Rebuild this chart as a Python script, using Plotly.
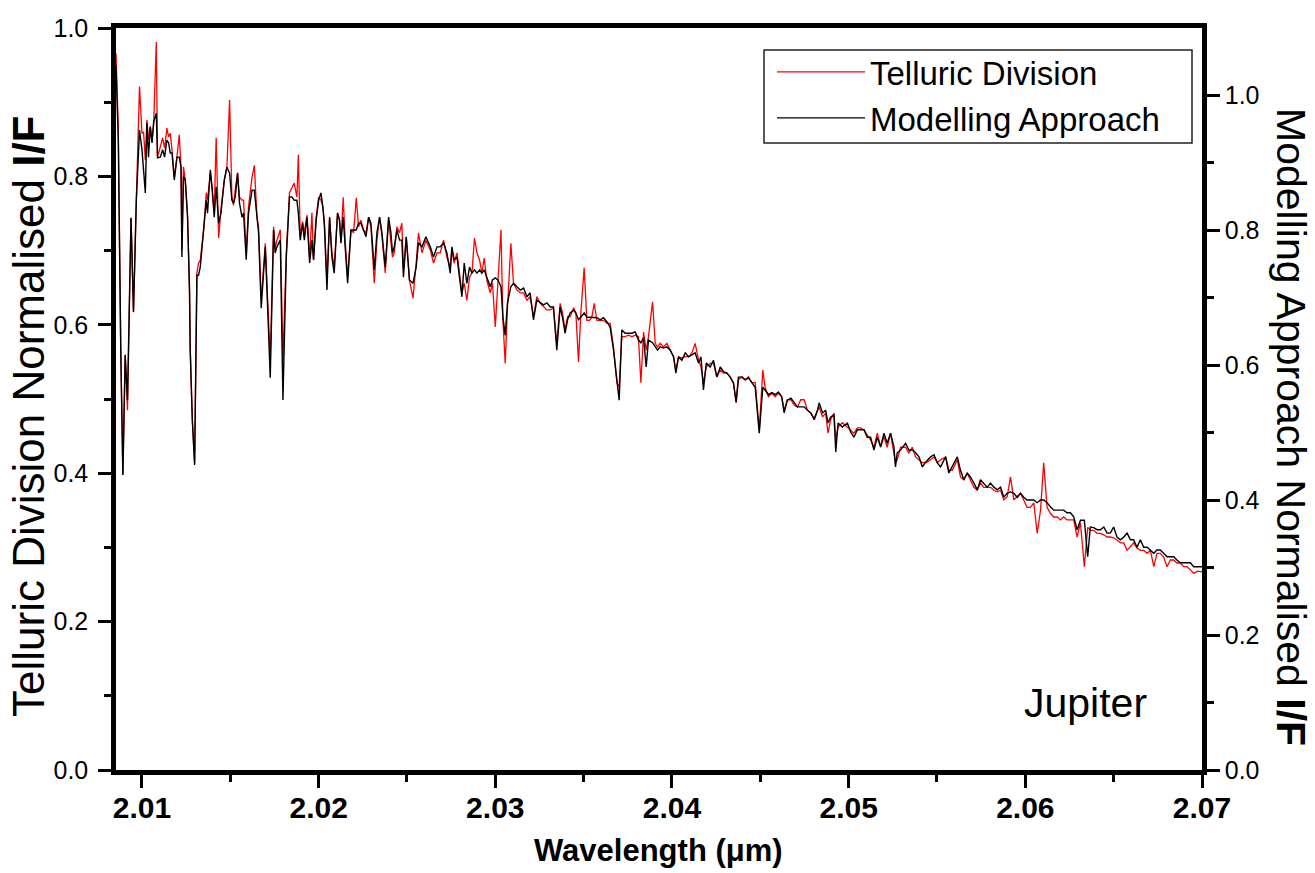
import plotly.graph_objects as go

# ---------------- data ----------------
wavelength = [
 2.00853, 2.00866, 2.00880, 2.00892, 2.00905, 2.00918, 2.00938, 2.00952, 2.00968, 2.00986,
 2.01000, 2.01009, 2.01019, 2.01028, 2.01037, 2.01047, 2.01057, 2.01066, 2.01081, 2.01088,
 2.01104, 2.01117, 2.01128, 2.01141, 2.01151, 2.01160, 2.01170, 2.01183, 2.01198, 2.01211,
 2.01221, 2.01226, 2.01235, 2.01245, 2.01258, 2.01269, 2.01273, 2.01285, 2.01298, 2.01311,
 2.01320, 2.01330, 2.01349, 2.01364, 2.01371, 2.01387, 2.01396, 2.01409, 2.01420, 2.01434,
 2.01447, 2.01466, 2.01481, 2.01496, 2.01509, 2.01518, 2.01528, 2.01541, 2.01552, 2.01566,
 2.01575, 2.01590, 2.01603, 2.01623, 2.01636, 2.01651, 2.01660, 2.01675, 2.01698, 2.01716,
 2.01726, 2.01745, 2.01754, 2.01764, 2.01783, 2.01798, 2.01817, 2.01835, 2.01849, 2.01862,
 2.01877, 2.01885, 2.01896, 2.01909, 2.01919, 2.01934, 2.01949, 2.01962, 2.01971, 2.01986,
 2.02000, 2.02013, 2.02024, 2.02033, 2.02047, 2.02062, 2.02075, 2.02088, 2.02107, 2.02118,
 2.02126, 2.02139, 2.02151, 2.02164, 2.02183, 2.02198, 2.02213, 2.02226, 2.02239, 2.02254,
 2.02268, 2.02283, 2.02296, 2.02315, 2.02330, 2.02345, 2.02358, 2.02377, 2.02396, 2.02409,
 2.02418, 2.02428, 2.02443, 2.02458, 2.02471, 2.02480, 2.02496, 2.02514, 2.02534, 2.02552,
 2.02565, 2.02585, 2.02607, 2.02632, 2.02650, 2.02670, 2.02688, 2.02707, 2.02726, 2.02745,
 2.02754, 2.02767, 2.02783, 2.02797, 2.02811, 2.02824, 2.02839, 2.02854, 2.02868, 2.02882,
 2.02896, 2.02911, 2.02924, 2.02937, 2.02952, 2.02971, 2.02984, 2.03000, 2.03015, 2.03032,
 2.03043, 2.03056, 2.03069, 2.03088, 2.03103, 2.03122, 2.03141, 2.03160, 2.03179, 2.03197,
 2.03216, 2.03235, 2.03254, 2.03273, 2.03292, 2.03311, 2.03329, 2.03348, 2.03367, 2.03380,
 2.03395, 2.03409, 2.03424, 2.03443, 2.03456, 2.03471, 2.03484, 2.03503, 2.03518, 2.03533,
 2.03547, 2.03560, 2.03575, 2.03594, 2.03612, 2.03632, 2.03650, 2.03669, 2.03688, 2.03701,
 2.03716, 2.03735, 2.03754, 2.03773, 2.03792, 2.03810, 2.03824, 2.03839, 2.03854, 2.03867,
 2.03890, 2.03905, 2.03918, 2.03933, 2.03952, 2.03971, 2.03990, 2.04009, 2.04022, 2.04037,
 2.04056, 2.04075, 2.04094, 2.04113, 2.04131, 2.04150, 2.04164, 2.04178, 2.04194, 2.04216,
 2.04235, 2.04254, 2.04273, 2.04292, 2.04311, 2.04329, 2.04348, 2.04363, 2.04376, 2.04396,
 2.04414, 2.04433, 2.04452, 2.04471, 2.04494, 2.04514, 2.04527, 2.04546, 2.04565, 2.04584,
 2.04602, 2.04621, 2.04635, 2.04653, 2.04673, 2.04691, 2.04710, 2.04729, 2.04748, 2.04767,
 2.04786, 2.04805, 2.04824, 2.04833, 2.04852, 2.04870, 2.04883, 2.04898, 2.04917, 2.04927,
 2.04940, 2.04964, 2.04993, 2.05011, 2.05030, 2.05049, 2.05068, 2.05087, 2.05105, 2.05124,
 2.05143, 2.05162, 2.05181, 2.05200, 2.05218, 2.05237, 2.05256, 2.05265, 2.05275, 2.05294,
 2.05322, 2.05341, 2.05360, 2.05379, 2.05398, 2.05417, 2.05445, 2.05464, 2.05483, 2.05502,
 2.05520, 2.05549, 2.05567, 2.05586, 2.05615, 2.05633, 2.05652, 2.05671, 2.05690, 2.05709,
 2.05728, 2.05746, 2.05765, 2.05784, 2.05803, 2.05822, 2.05841, 2.05860, 2.05878, 2.05897,
 2.05916, 2.05935, 2.05954, 2.05973, 2.05991, 2.06010, 2.06029, 2.06048, 2.06067, 2.06086,
 2.06104, 2.06123, 2.06142, 2.06161, 2.06180, 2.06199, 2.06217, 2.06236, 2.06255, 2.06274,
 2.06293, 2.06312, 2.06334, 2.06353, 2.06368, 2.06387, 2.06406, 2.06425, 2.06444, 2.06463,
 2.06481, 2.06500, 2.06519, 2.06538, 2.06557, 2.06576, 2.06595, 2.06613, 2.06632, 2.06651,
 2.06670, 2.06689, 2.06708, 2.06727, 2.06745, 2.06764, 2.06783, 2.06802, 2.06821, 2.06840,
 2.06858, 2.06877, 2.06896, 2.06915, 2.06934, 2.06953, 2.06975, 2.07000,
]

# Telluric Division normalised I/F (left axis)
telluric = [
 0.966, 0.863, 0.566, 0.398, 0.559, 0.485, 0.744, 0.617, 0.768, 0.921,
 0.858, 0.860, 0.822, 0.876, 0.849, 0.867, 0.849, 0.869, 0.981, 0.826,
 0.840, 0.852, 0.838, 0.865, 0.853, 0.858, 0.836, 0.799, 0.826, 0.856,
 0.813, 0.701, 0.813, 0.795, 0.748, 0.647, 0.570, 0.472, 0.414, 0.670,
 0.683, 0.687, 0.728, 0.778, 0.768, 0.805, 0.788, 0.751, 0.852, 0.717,
 0.755, 0.795, 0.813, 0.903, 0.772, 0.761, 0.782, 0.805, 0.772, 0.768,
 0.768, 0.697, 0.759, 0.799, 0.815, 0.745, 0.732, 0.633, 0.710, 0.606,
 0.553, 0.732, 0.703, 0.714, 0.728, 0.553, 0.697, 0.778, 0.786, 0.791,
 0.772, 0.829, 0.718, 0.739, 0.724, 0.748, 0.691, 0.751, 0.687, 0.745,
 0.772, 0.768, 0.759, 0.737, 0.660, 0.745, 0.697, 0.678, 0.751, 0.741,
 0.710, 0.772, 0.710, 0.664, 0.728, 0.724, 0.771, 0.732, 0.741, 0.728,
 0.724, 0.745, 0.732, 0.656, 0.714, 0.745, 0.721, 0.670, 0.741, 0.714,
 0.691, 0.697, 0.732, 0.724, 0.737, 0.674, 0.718, 0.660, 0.636, 0.683,
 0.724, 0.697, 0.714, 0.701, 0.683, 0.697, 0.697, 0.714, 0.691, 0.678,
 0.701, 0.683, 0.697, 0.670, 0.643, 0.656, 0.633, 0.664, 0.670, 0.717,
 0.697, 0.687, 0.670, 0.690, 0.660, 0.643, 0.656, 0.597, 0.654, 0.728,
 0.606, 0.548, 0.624, 0.710, 0.656, 0.647, 0.643, 0.643, 0.633, 0.638,
 0.611, 0.638, 0.629, 0.624, 0.620, 0.620, 0.623, 0.575, 0.629, 0.616,
 0.593, 0.611, 0.611, 0.623, 0.616, 0.550, 0.616, 0.677, 0.606, 0.606,
 0.611, 0.629, 0.606, 0.606, 0.606, 0.602, 0.602, 0.570, 0.522, 0.516,
 0.584, 0.584, 0.586, 0.584, 0.586, 0.584, 0.522, 0.590, 0.566, 0.584,
 0.631, 0.575, 0.570, 0.575, 0.570, 0.575, 0.566, 0.557, 0.539, 0.557,
 0.555, 0.557, 0.557, 0.562, 0.575, 0.553, 0.543, 0.522, 0.543, 0.548,
 0.548, 0.530, 0.539, 0.535, 0.535, 0.530, 0.522, 0.495, 0.526, 0.530,
 0.526, 0.530, 0.522, 0.522, 0.458, 0.539, 0.516, 0.503, 0.508, 0.503,
 0.508, 0.503, 0.485, 0.499, 0.499, 0.492, 0.489, 0.499, 0.499, 0.485,
 0.481, 0.474, 0.485, 0.489, 0.476, 0.481, 0.454, 0.472, 0.481, 0.445,
 0.462, 0.468, 0.462, 0.458, 0.454, 0.461, 0.461, 0.458, 0.451, 0.445,
 0.435, 0.454, 0.435, 0.449, 0.435, 0.454, 0.427, 0.414, 0.418, 0.435,
 0.435, 0.427, 0.435, 0.422, 0.418, 0.414, 0.415, 0.418, 0.422, 0.414,
 0.418, 0.422, 0.404, 0.404, 0.418, 0.395, 0.391, 0.400, 0.391, 0.381,
 0.377, 0.387, 0.381, 0.381, 0.381, 0.377, 0.375, 0.377, 0.364, 0.368,
 0.395, 0.364, 0.368, 0.373, 0.364, 0.354, 0.354, 0.360, 0.319, 0.350,
 0.414, 0.354, 0.346, 0.341, 0.341, 0.337, 0.341, 0.337, 0.337, 0.337,
 0.314, 0.333, 0.274, 0.327, 0.323, 0.323, 0.319, 0.319, 0.317, 0.314,
 0.314, 0.313, 0.310, 0.306, 0.306, 0.296, 0.301, 0.306, 0.299, 0.296,
 0.296, 0.292, 0.296, 0.274, 0.292, 0.292, 0.287, 0.274, 0.283, 0.283,
 0.279, 0.279, 0.274, 0.274, 0.270, 0.265, 0.268, 0.267,
]

# Modelling Approach normalised I/F (right axis)
modelling = [
 1.044, 0.933, 0.622, 0.437, 0.615, 0.548, 0.818, 0.679, 0.844, 0.948,
 0.919, 0.889, 0.855, 0.959, 0.908, 0.953, 0.929, 0.960, 0.973, 0.907,
 0.908, 0.919, 0.908, 0.933, 0.929, 0.914, 0.914, 0.874, 0.908, 0.908,
 0.893, 0.760, 0.879, 0.874, 0.819, 0.711, 0.622, 0.519, 0.452, 0.733,
 0.733, 0.745, 0.796, 0.844, 0.825, 0.889, 0.864, 0.819, 0.864, 0.810,
 0.825, 0.874, 0.893, 0.884, 0.844, 0.840, 0.849, 0.884, 0.840, 0.819,
 0.825, 0.756, 0.825, 0.859, 0.859, 0.815, 0.796, 0.684, 0.775, 0.652,
 0.581, 0.800, 0.766, 0.775, 0.785, 0.548, 0.760, 0.849, 0.849, 0.844,
 0.844, 0.825, 0.785, 0.810, 0.785, 0.819, 0.751, 0.785, 0.756, 0.815,
 0.844, 0.855, 0.834, 0.804, 0.711, 0.819, 0.760, 0.736, 0.825, 0.815,
 0.781, 0.819, 0.770, 0.721, 0.800, 0.800, 0.800, 0.810, 0.810, 0.800,
 0.790, 0.819, 0.810, 0.741, 0.796, 0.819, 0.796, 0.745, 0.819, 0.796,
 0.766, 0.775, 0.800, 0.785, 0.785, 0.730, 0.790, 0.726, 0.721, 0.745,
 0.781, 0.775, 0.790, 0.775, 0.760, 0.775, 0.775, 0.781, 0.766, 0.736,
 0.775, 0.756, 0.760, 0.730, 0.701, 0.751, 0.721, 0.745, 0.736, 0.741,
 0.736, 0.741, 0.736, 0.741, 0.730, 0.716, 0.726, 0.729, 0.726, 0.716,
 0.671, 0.644, 0.692, 0.716, 0.721, 0.716, 0.711, 0.714, 0.701, 0.707,
 0.667, 0.696, 0.692, 0.689, 0.692, 0.686, 0.686, 0.622, 0.686, 0.671,
 0.647, 0.667, 0.677, 0.681, 0.677, 0.667, 0.671, 0.677, 0.671, 0.671,
 0.670, 0.671, 0.670, 0.667, 0.670, 0.664, 0.656, 0.622, 0.573, 0.548,
 0.652, 0.647, 0.647, 0.647, 0.649, 0.637, 0.633, 0.640, 0.597, 0.637,
 0.633, 0.627, 0.622, 0.627, 0.625, 0.627, 0.622, 0.612, 0.588, 0.612,
 0.607, 0.618, 0.612, 0.615, 0.618, 0.603, 0.612, 0.563, 0.603, 0.597,
 0.607, 0.582, 0.597, 0.590, 0.588, 0.582, 0.573, 0.545, 0.582, 0.582,
 0.578, 0.581, 0.573, 0.567, 0.499, 0.567, 0.563, 0.556, 0.559, 0.556,
 0.560, 0.553, 0.529, 0.548, 0.551, 0.544, 0.538, 0.538, 0.538, 0.533,
 0.529, 0.519, 0.533, 0.544, 0.529, 0.533, 0.514, 0.523, 0.526, 0.471,
 0.514, 0.508, 0.514, 0.501, 0.493, 0.504, 0.504, 0.504, 0.493, 0.493,
 0.474, 0.493, 0.479, 0.499, 0.484, 0.499, 0.479, 0.449, 0.470, 0.474,
 0.484, 0.474, 0.474, 0.470, 0.464, 0.449, 0.459, 0.464, 0.467, 0.455,
 0.449, 0.464, 0.440, 0.449, 0.464, 0.444, 0.430, 0.440, 0.434, 0.425,
 0.415, 0.430, 0.425, 0.419, 0.425, 0.419, 0.415, 0.419, 0.404, 0.410,
 0.412, 0.410, 0.404, 0.410, 0.404, 0.400, 0.400, 0.400, 0.396, 0.400,
 0.400, 0.396, 0.390, 0.385, 0.385, 0.385, 0.385, 0.381, 0.381, 0.375,
 0.356, 0.370, 0.370, 0.316, 0.360, 0.359, 0.356, 0.356, 0.360, 0.351,
 0.351, 0.360, 0.345, 0.341, 0.345, 0.351, 0.341, 0.341, 0.330, 0.341,
 0.330, 0.330, 0.326, 0.321, 0.326, 0.326, 0.321, 0.316, 0.316, 0.316,
 0.311, 0.307, 0.307, 0.307, 0.307, 0.301, 0.301, 0.301,
]

x_ticks = [2.01, 2.02, 2.03, 2.04, 2.05, 2.06, 2.07]
x_tick_labels = ["2.01", "2.02", "2.03", "2.04", "2.05", "2.06", "2.07"]
y_ticks = [0.0, 0.2, 0.4, 0.6, 0.8, 1.0]
y_tick_labels = ["0.0", "0.2", "0.4", "0.6", "0.8", "1.0"]

assert len(wavelength) == len(telluric) == len(modelling), (len(wavelength), len(telluric), len(modelling))

FONT = "Liberation Sans, Arial, Helvetica, sans-serif"

fig = go.Figure()
fig.add_trace(go.Scatter(
    x=wavelength, y=telluric, mode="lines", name="Telluric Division",
    line=dict(color="#ff0000", width=1.3), yaxis="y"))
fig.add_trace(go.Scatter(
    x=wavelength, y=modelling, mode="lines", name="Modelling Approach",
    line=dict(color="#000000", width=1.4), yaxis="y2"))

L, R, T, B = 116, 113, 28, 103
W, H = 1315, 873
pw, ph = W - L - R, H - T - B


def px(xp):
    return (xp - L) / pw


def py(yp):
    return (H - B - yp) / ph


axis_common = dict(
    ticks="outside", ticklen=13, tickwidth=3, tickcolor="black",
    showline=True, linewidth=4.5, linecolor="black",
    showgrid=False, zeroline=False,
)

fig.update_layout(
    width=W, height=H,
    margin=dict(l=L, r=R, t=T, b=B),
    paper_bgcolor="white", plot_bgcolor="white",
    font=dict(family=FONT, color="black"),
    showlegend=True,
    legend=dict(
        x=px(772), y=py(44), xanchor="left", yanchor="top",
        bgcolor="rgba(0,0,0,0)", borderwidth=0,
        font=dict(family=FONT, size=33, color="black"),
        itemwidth=88, tracegroupgap=0,
    ),
    xaxis=dict(
        range=[2.00853, 2.07],
        tickmode="array", tickvals=x_ticks, ticktext=x_tick_labels,
        tickfont=dict(family=FONT, size=30, color="black", weight="bold"),
        ticklabelstandoff=-6,
        mirror=True,
        minor=dict(dtick=0.005, tick0=2.005, ticks="outside", ticklen=7,
                   tickwidth=3, tickcolor="black"),
        **axis_common,
    ),
    yaxis=dict(
        range=[0, 1.0],
        tickmode="array", tickvals=y_ticks, ticktext=y_tick_labels,
        tickfont=dict(family=FONT, size=25, color="black"),
        ticklabelstandoff=5,
        minor=dict(dtick=0.1, tick0=0, ticks="outside", ticklen=7,
                   tickwidth=3, tickcolor="black"),
        **axis_common,
    ),
    yaxis2=dict(
        range=[0, 742 / 675],
        overlaying="y", side="right", anchor="x",
        tickmode="array", tickvals=y_ticks, ticktext=y_tick_labels,
        tickfont=dict(family=FONT, size=25, color="black"),
        minor=dict(dtick=0.1, tick0=0, ticks="outside", ticklen=7,
                   tickwidth=3, tickcolor="black"),
        **axis_common,
    ),
    shapes=[dict(
        type="rect", xref="paper", yref="paper",
        x0=px(764), x1=px(1192), y0=py(143), y1=py(50),
        line=dict(color="#222222", width=1.5), fillcolor="rgba(0,0,0,0)",
    )],
    annotations=[
        dict(text="Telluric Division Normalised <b>I/F</b>", xref="paper", yref="paper",
             x=px(28), y=py(417), xanchor="center", yanchor="middle",
             textangle=-90, showarrow=False, font=dict(family=FONT, size=44, color="black")),
        dict(text="Modelling Approach Normalised <b>I/F</b>", xref="paper", yref="paper",
             x=px(1291), y=py(427), xanchor="center", yanchor="middle",
             textangle=90, showarrow=False, font=dict(family=FONT, size=41, color="black")),
        dict(text="<b>Wavelength (μm)</b>", xref="paper", yref="paper",
             x=px(658), y=py(850), xanchor="center", yanchor="middle",
             showarrow=False, font=dict(family=FONT, size=31, color="black")),
        dict(text="Jupiter", xref="paper", yref="paper",
             x=px(1085), y=py(703), xanchor="center", yanchor="middle",
             showarrow=False, font=dict(family=FONT, size=41, color="black")),
    ],
)

fig.write_html("out.html", config={"displayModeBar": False},
               post_script="document.body.style.margin='0px';")
